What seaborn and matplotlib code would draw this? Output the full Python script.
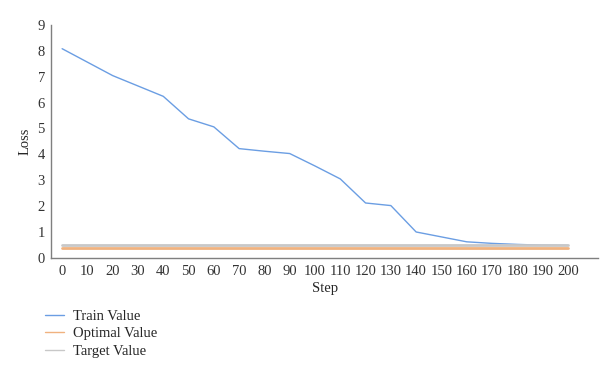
import pandas as pd
import matplotlib
matplotlib.use('Agg')
import matplotlib.pyplot as plt
import seaborn as sns

# Values
steps = list(range(0, 201, 10))
train_value = [8.08, 7.56, 7.04, 6.64, 6.24, 5.37, 5.06, 4.22, 4.12, 4.03,
               3.55, 3.05, 2.12, 2.02, 1.00, 0.81, 0.62, 0.56, 0.52, 0.49, 0.48]
optimal_value = [0.40] * len(steps)
target_value = [0.50] * len(steps)
series_names = ['Train Value', 'Optimal Value', 'Target Value']

df = pd.DataFrame({
    'Step': steps * 3,
    'Loss': train_value + optimal_value + target_value,
    'series': sum([[n] * len(steps) for n in series_names], []),
})

sns.set_style('white')
plt.rcParams['font.family'] = ['Liberation Serif', 'DejaVu Serif']
plt.rcParams['font.size'] = 10.5

fig = plt.figure(figsize=(6, 3.77), dpi=100)
ax = fig.add_axes([0.085, 0.316, 0.912, 0.618])

palette = {'Train Value': '#6b9ee3', 'Optimal Value': '#f0b27f', 'Target Value': '#c8c8c8'}
sizes = {'Train Value': 1.0, 'Optimal Value': 2.0, 'Target Value': 2.0}
sns.lineplot(data=df, x='Step', y='Loss', hue='series', size='series',
             sizes=sizes, palette=palette, ax=ax, estimator=None)

ax.set_xlim(-4.4, 212)
ax.set_ylim(0, 9)
ax.set_xticks(steps)
ax.set_yticks(range(0, 10))
ax.tick_params(length=0, labelsize=10.5, colors='#333333')
ax.tick_params(axis='x', pad=5)
ax.tick_params(axis='y', pad=4.5)
ax.set_xlabel('Step', fontsize=10.5, labelpad=3)
ax.set_ylabel('Loss', fontsize=10.5, labelpad=4)
for s in ['top', 'right']:
    ax.spines[s].set_visible(False)
for s in ['left', 'bottom']:
    ax.spines[s].set_color('#7f7f7f')
    ax.spines[s].set_linewidth(1.0)

sns.move_legend(ax, 'upper left', bbox_to_anchor=(-0.035, -0.165), frameon=False,
                title=None, handlelength=1.3, labelspacing=0.3, handletextpad=0.6,
                fontsize=10.5)
for h in ax.get_legend().get_lines():
    h.set_linewidth(1.0)

fig.savefig('out.png', dpi=100)
